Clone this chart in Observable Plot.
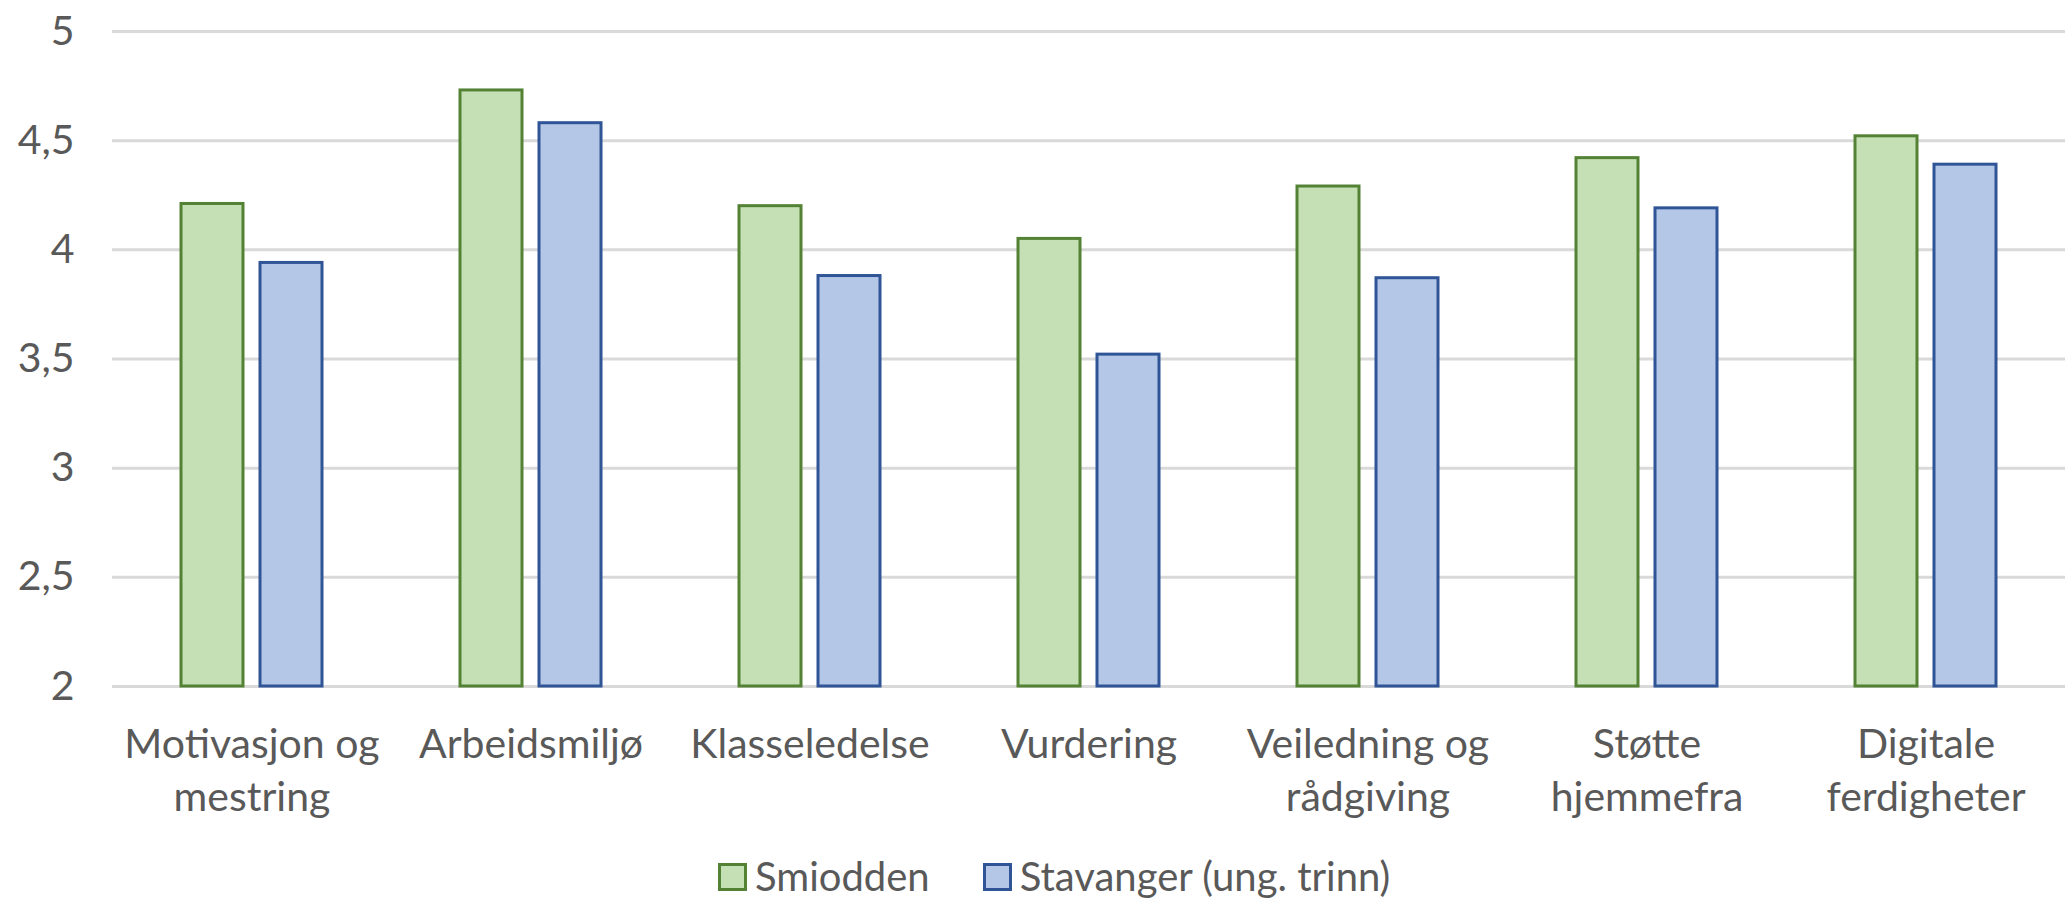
<!DOCTYPE html>
<html>
<head>
<meta charset="utf-8">
<script src="https://cdn.jsdelivr.net/npm/d3@7"></script>
<script src="https://cdn.jsdelivr.net/npm/@observablehq/plot@0.6"></script>
<style>
  html, body { margin: 0; padding: 0; background: #ffffff; }
  body { width: 2068px; height: 900px; position: relative; overflow: hidden; font-family: Lato, sans-serif; color: #595959; }
  #chart { position: absolute; left: 0; top: 0; }
  #legend { position: absolute; left: 718px; top: 856px; height: 41px; line-height: 41px; display: flex; align-items: center; font-size: 40px; white-space: nowrap; }
  .item { display: flex; align-items: center; margin-right: 53px; }
  .sw { width: 23px; height: 22px; border-style: solid; border-width: 3px; margin-right: 8px; }
</style>
</head>
<body>
<div id="chart"></div>
<div id="legend"></div>
<script>
const categories = ["Motivasjon og mestring", "Arbeidsmiljø", "Klasseledelse", "Vurdering", "Veiledning og rådgiving", "Støtte hjemmefra", "Digitale ferdigheter"];
const tickLabels = ["Motivasjon og\nmestring", "Arbeidsmiljø", "Klasseledelse", "Vurdering", "Veiledning og\nrådgiving", "Støtte\nhjemmefra", "Digitale\nferdigheter"];
const seriesNames = ["Smiodden", "Stavanger (ung. trinn)"];
const smiodden = [4.21, 4.73, 4.20, 4.05, 4.29, 4.42, 4.52];
const stavanger = [3.94, 4.58, 3.88, 3.52, 3.87, 4.19, 4.39];
const yTicks = [2, 2.5, 3, 3.5, 4, 4.5, 5];
const fills = ["#C5E0B4", "#B4C7E7"];
const strokes = ["#548235", "#2F5597"];

const seriesValues = [smiodden, stavanger];
const data = categories.flatMap((c, i) => seriesNames.map((s, j) => ({category: c, series: s, value: seriesValues[j][i]})));

const chart = Plot.plot({
  width: 2068,
  height: 831,
  marginTop: 31,
  marginBottom: 145,
  marginLeft: 109,
  marginRight: 0,
  style: {fontFamily: "Lato, sans-serif", fontSize: "41px", color: "#595959", background: "white"},
  fx: {domain: categories, padding: 0, label: null},
  x: {domain: seriesNames, paddingInner: 0.214, paddingOuter: 0.867, axis: null},
  y: {domain: [2, 5], label: null},
  marks: [
    Plot.gridY(yTicks, {stroke: "#D9D9D9", strokeOpacity: 1, strokeWidth: 3}),
    ...seriesNames.map((s, j) =>
      Plot.barY(data.filter(d => d.series === s), {
        fx: "category", x: "series", y1: 2, y2: "value",
        fill: fills[j], stroke: strokes[j], strokeWidth: 3
      })
    ),
    Plot.axisY(yTicks, {tickSize: 0, tickPadding: 38, tickFormat: d => String(d).replace(".", ","), fontSize: 41, label: null}),
    Plot.axisFx({anchor: "bottom", tickSize: 0, tickPadding: 35, tickFormat: d => tickLabels[categories.indexOf(d)], fontSize: 41, lineHeight: 1.27, label: null})
  ]
});
document.getElementById("chart").appendChild(chart);

const legend = document.getElementById("legend");
seriesNames.forEach((s, j) => {
  const item = document.createElement("div");
  item.className = "item";
  const sw = document.createElement("div");
  sw.className = "sw";
  sw.style.background = fills[j];
  sw.style.borderColor = strokes[j];
  const label = document.createElement("span");
  label.textContent = s;
  item.appendChild(sw);
  item.appendChild(label);
  legend.appendChild(item);
});
</script>
</body>
</html>
